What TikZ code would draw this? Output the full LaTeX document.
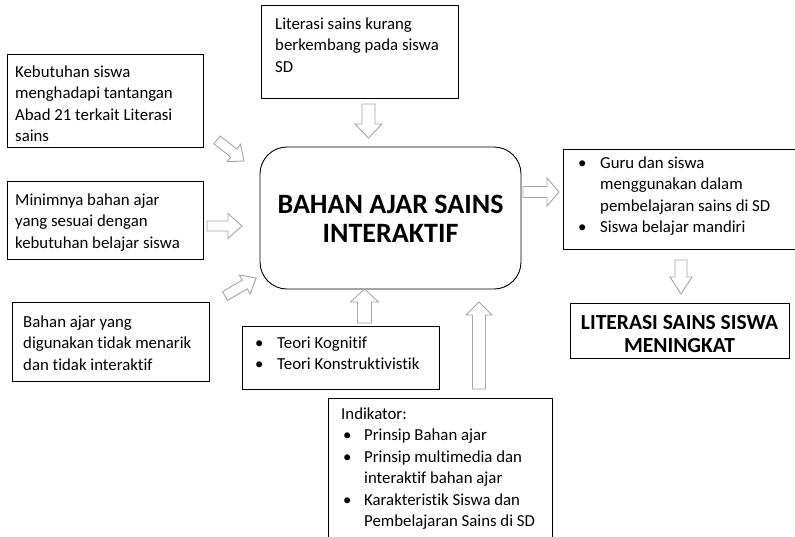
\documentclass[tikz,border=0pt]{standalone}
\usepackage{fontspec}
\setmainfont{Carlito}[Ligatures={NoCommon}]
\usetikzlibrary{calc}
\tikzset{
  box/.style={draw=black, line width=0.9pt},
  arrowline/.style={draw=black!35, line width=0.9pt, fill=white, line join=miter},
  txt/.style={anchor=base west, inner sep=0pt, font=\fontsize{16.8}{21.5}\selectfont},
  ttl/.style={anchor=base, inner sep=0pt, align=center},
}
\newcommand\tb[2]{\begin{minipage}[t]{#1pt}\rightskip=0pt plus 1fil\parindent=0pt\relax #2\end{minipage}}
\newcommand\bitem[3]{\par\hangindent=#2pt\hangafter=1\noindent\makebox[#2pt][l]{\hspace{#1pt}\textbullet}#3}
% name, tail, tip, shaft half width, head half width, head length
\newcommand\blkarrow[6]{%
  \coordinate (#1-h) at ($(#3)!#6pt!(#2)$);
  \draw[arrowline]
    ($(#2)!#4pt!90:(#3)$) -- ($(#1-h)!#4pt!90:(#3)$) -- ($(#1-h)!#5pt!90:(#3)$) -- (#3)
    -- ($(#1-h)!#5pt!-90:(#3)$) -- ($(#1-h)!#4pt!-90:(#3)$) -- ($(#2)!#4pt!-90:(#3)$) -- cycle;
}
\begin{document}
\begin{tikzpicture}[x=1pt,y=-1pt]
\useasboundingbox (0,0) rectangle (795,536);
\clip (0,0) rectangle (795,536);

% boxes
\draw[box] (7,54) rectangle (203,147);
\draw[box] (7,181) rectangle (203,259);
\draw[box] (12,302) rectangle (209,381);
\draw[box] (261,5) rectangle (458,98);
\draw[box, rounded corners=27pt] (260,147) rectangle (521,289);
\draw[box] (563,149) rectangle (800,249);
\draw[box] (570,303) rectangle (789,358);
\draw[box] (242,326) rectangle (439,389);
\draw[box] (328,398) rectangle (552,545);

% texts
\node[txt] (t1) at (15,77) {\tb{190}{Kebutuhan siswa\\menghadapi tantangan\\Abad 21 terkait Literasi\\sains}};
\node[txt] (t2) at (15,205) {\tb{190}{Minimnya bahan ajar\\yang sesuai dengan\\kebutuhan belajar siswa}};
\node[txt] (t3) at (23,327) {\tb{190}{Bahan ajar yang\\digunakan tidak menarik\\dan tidak interaktif}};
\node[txt] (t4) at (275,29) {\tb{190}{Literasi sains kurang\\berkembang pada siswa\\SD}};
\node[ttl, font=\fontsize{28}{29}\selectfont\bfseries] (c) at (390.5,242) {BAHAN AJAR SAINS\\INTERAKTIF};
\node[txt] (r1) at (563,168) {\tb{225}{\bitem{15}{37}{Guru dan siswa\\menggunakan dalam\\pembelajaran sains di SD}\bitem{15}{37}{Siswa belajar mandiri}}};
\node[ttl, font=\fontsize{21.5}{23}\selectfont\bfseries] (lit) at (679.5,352) {LITERASI SAINS SISWA\\MENINGKAT};
\node[txt] (teori) at (242,348) {\tb{195}{\bitem{13}{35}{Teori Kognitif}\bitem{13}{35}{Teori Konstruktivistik}}};
\node[txt] (ind) at (328,419) {\tb{222}{\hspace*{13pt}Indikator:\bitem{15}{36}{Prinsip Bahan ajar}\bitem{15}{36}{Prinsip multimedia dan\\interaktif bahan ajar}\bitem{15}{36}{Karakteristik Siswa dan\\Pembelajaran Sains di SD}}};

% block arrows
\coordinate (a1t) at (217,140); \coordinate (a1p) at (244,161);
\blkarrow{a1}{a1t}{a1p}{5}{11}{13}
\coordinate (a2t) at (207,226); \coordinate (a2p) at (242,226);
\blkarrow{a2}{a2t}{a2p}{5}{12.5}{14}
\coordinate (a3t) at (225,296); \coordinate (a3p) at (256,278);
\blkarrow{a3}{a3t}{a3p}{5}{11}{13}
\coordinate (a4t) at (523,192); \coordinate (a4p) at (559,192);
\blkarrow{a4}{a4t}{a4p}{5.5}{14}{12}
\coordinate (a5t) at (368.5,104); \coordinate (a5p) at (368.5,138);
\blkarrow{a5}{a5t}{a5p}{6.5}{13.5}{14}
\coordinate (a6t) at (681,260); \coordinate (a6p) at (681,294);
\blkarrow{a6}{a6t}{a6p}{6}{11}{17}
\coordinate (a7t) at (364.5,323); \coordinate (a7p) at (364.5,289);
\blkarrow{a7}{a7t}{a7p}{7}{14}{13}
\coordinate (a8t) at (479,389); \coordinate (a8p) at (479,302);
\blkarrow{a8}{a8t}{a8p}{6.5}{13}{13}
\end{tikzpicture}
\end{document}
